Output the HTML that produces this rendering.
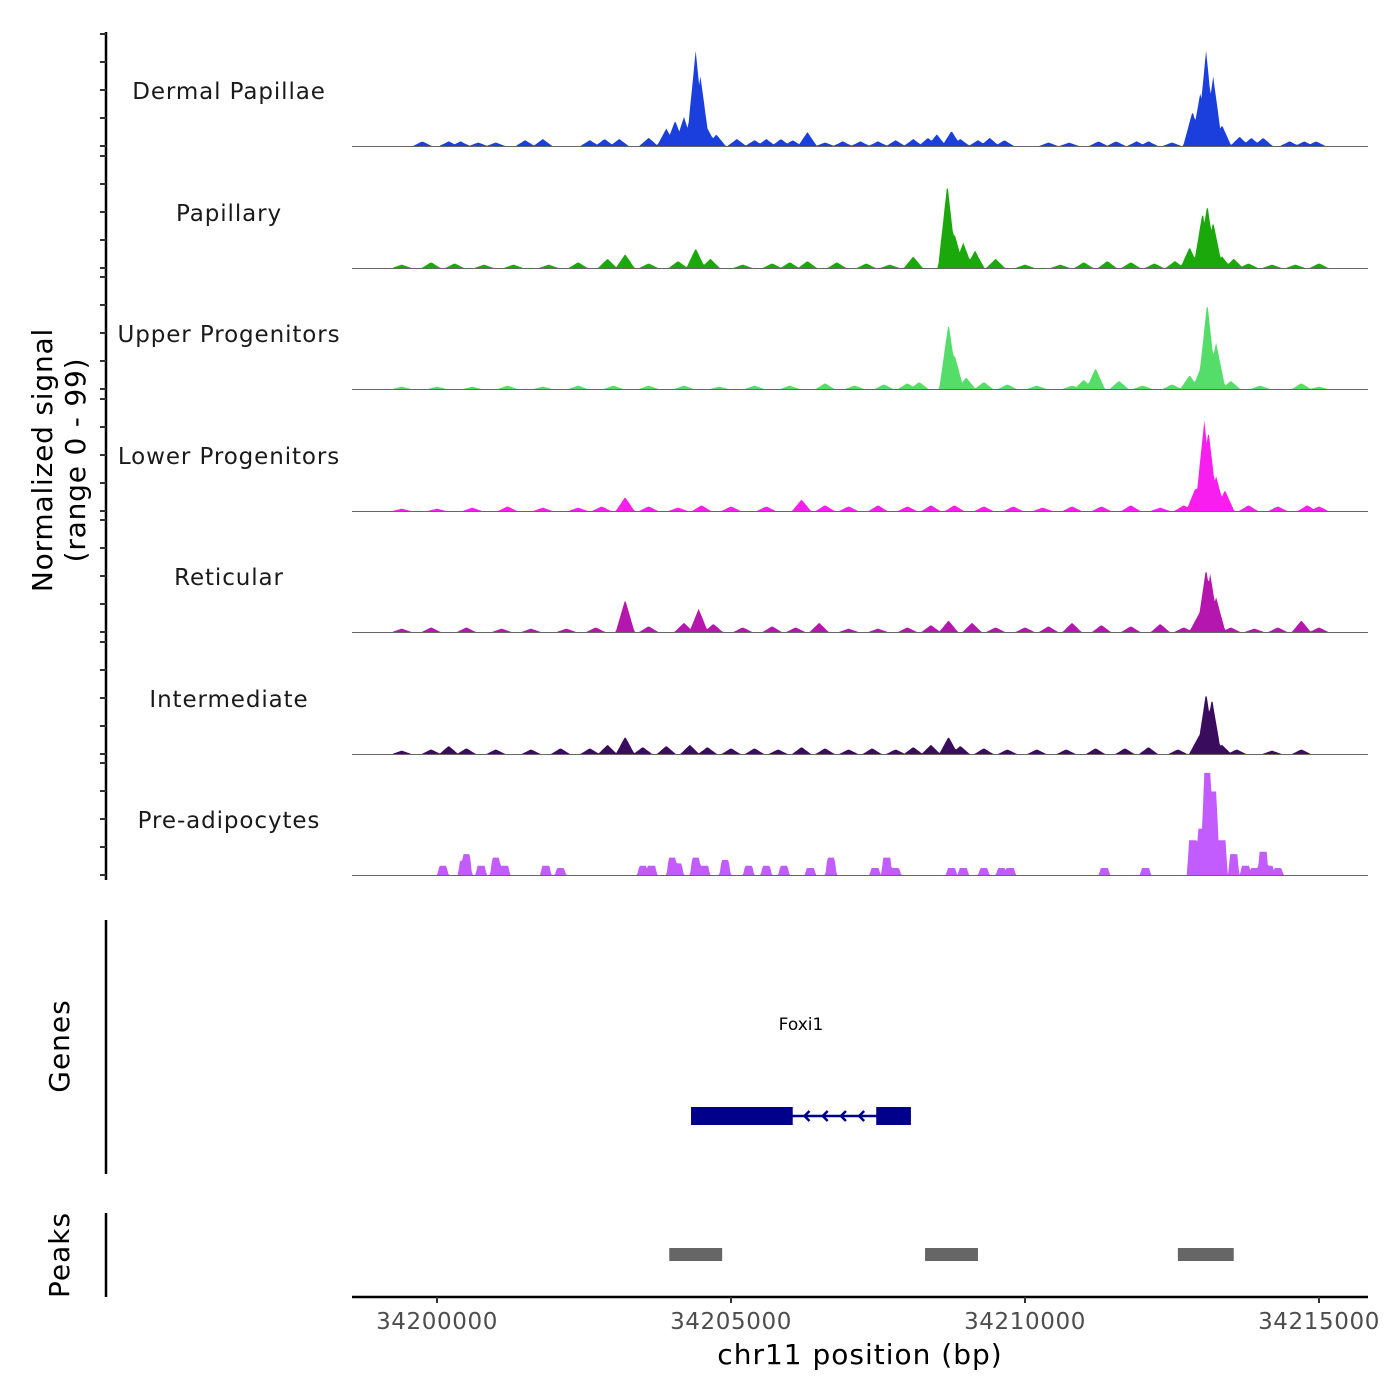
<!DOCTYPE html>
<html><head><meta charset="utf-8">
<style>
html,body{margin:0;padding:0;background:#fff;}
svg{display:block;font-family:"DejaVu Sans","Liberation Sans",sans-serif;}
</style></head>
<body>
<svg id="chart" width="1400" height="1400" viewBox="0 0 1400 1400">
  <g id="tracks"></g>
  <g id="yaxis"></g>
  <text x="52" y="460" font-size="28" letter-spacing="0.8" text-anchor="middle" transform="rotate(-90 52 460)" fill="#000">Normalized signal</text>
  <text x="85" y="460" font-size="28" letter-spacing="0.8" text-anchor="middle" transform="rotate(-90 85 460)" fill="#000">(range 0 - 99)</text>
  <line x1="106" y1="920" x2="106" y2="1174" stroke="#000" stroke-width="2.5"/>
  <text x="69" y="1046" font-size="28" letter-spacing="1" text-anchor="middle" transform="rotate(-90 69 1046)">Genes</text>
  <g id="genes"></g>
  <line x1="106" y1="1213" x2="106" y2="1297" stroke="#000" stroke-width="2.5"/>
  <text x="69" y="1255" font-size="28" letter-spacing="1" text-anchor="middle" transform="rotate(-90 69 1255)">Peaks</text>
  <g id="peaks"></g>
  <g id="xaxis"></g>
  <text x="860" y="1364" font-size="28" letter-spacing="1" text-anchor="middle" fill="#000">chr11 position (bp)</text>
</svg>
<script>
// ---- data ----
const trackNames = ["Dermal Papillae","Papillary","Upper Progenitors","Lower Progenitors","Reticular","Intermediate","Pre-adipocytes"];
const trackColors = ["#1a3fdc","#1aa80a","#55dd6a","#f81ef0","#b416ae","#3a0c5e","#c25cff"];
// peak positions (kb offset from 34200000) and heights (0-99)
const dpPos = [-0.25,0.2,0.4,0.7,1.0,1.5,1.8,2.6,2.85,3.1,3.6,3.9,4.05,4.2,4.3,4.4,4.48,4.6,4.75,5.1,5.4,5.6,5.85,6.05,6.3,6.6,6.9,7.2,7.5,7.8,8.1,8.35,8.5,8.75,8.9,9.2,9.4,9.65,10.4,10.75,11.25,11.55,11.9,12.1,12.5,12.85,12.98,13.08,13.2,13.35,13.65,13.85,14.05,14.5,14.75,14.95];
const dpVal = [4,4,4,3,3,5,6,5,6,6,7,15,22,25,20,82,60,15,10,6,5,6,6,5,12,3,4,4,4,5,6,7,10,13,6,5,7,5,3,3,4,4,4,4,3,30,45,82,60,18,8,7,7,4,4,4];
const paPos = [-0.6,-0.1,0.3,0.8,1.3,1.9,2.4,2.9,3.2,3.6,4.1,4.4,4.65,5.2,5.7,6.0,6.3,6.8,7.3,7.7,8.1,8.68,8.8,8.95,9.15,9.5,10.0,10.6,11.0,11.4,11.8,12.2,12.55,12.8,13.02,13.1,13.2,13.35,13.55,13.8,14.2,14.6,15.0];
const paVal = [3,5,4,3,3,3,5,8,12,4,6,17,8,3,4,5,6,5,4,3,10,73,30,22,15,8,3,3,5,6,5,4,6,18,48,55,40,10,8,4,3,3,4];
const upPos = [-0.6,0,0.6,1.2,1.8,2.4,3.0,3.6,4.2,4.8,5.4,6.0,6.6,7.1,7.6,8.0,8.2,8.7,8.8,9.0,9.3,9.7,10.2,10.8,11.0,11.2,11.6,12.0,12.5,12.8,13.0,13.1,13.25,13.5,14.0,14.7,15.0];
const upVal = [2,2,2,3,2,3,3,3,3,2,3,3,5,3,4,5,6,57,30,10,6,4,3,3,8,18,7,3,4,12,20,75,40,7,3,5,2];
const loPos = [-0.6,0,0.6,1.2,1.8,2.4,2.8,3.2,3.6,4.1,4.5,5.0,5.6,6.2,6.6,7.0,7.5,8.0,8.4,8.8,9.3,9.8,10.3,10.8,11.3,11.8,12.3,12.7,12.9,13.05,13.12,13.25,13.4,13.8,14.3,14.8,15.0];
const loVal = [2,2,3,4,3,3,4,12,4,3,5,4,4,10,5,4,5,4,5,5,4,4,3,4,4,5,3,5,20,78,70,30,18,5,4,5,4];
const rePos = [-0.6,-0.1,0.5,1.1,1.6,2.2,2.7,3.2,3.6,4.2,4.45,4.7,5.2,5.7,6.1,6.5,7.0,7.5,8.0,8.4,8.7,9.1,9.5,10.0,10.4,10.8,11.3,11.8,12.3,12.7,12.95,13.08,13.15,13.25,13.5,13.9,14.3,14.7,15.0];
const reVal = [3,4,4,3,3,3,4,28,5,8,20,7,4,5,4,8,3,3,4,6,10,8,4,4,5,8,6,5,7,4,15,55,50,30,4,3,4,10,4];
const inPos = [-0.6,-0.1,0.2,0.5,1.0,1.6,2.1,2.6,2.9,3.2,3.5,3.9,4.3,4.6,5.0,5.4,5.8,6.2,6.6,7.0,7.4,7.8,8.1,8.4,8.7,8.9,9.3,9.7,10.2,10.7,11.2,11.7,12.1,12.6,12.95,13.08,13.18,13.35,13.6,14.2,14.7];
const inVal = [3,4,7,5,4,4,5,5,8,15,6,7,8,6,5,5,4,6,5,4,5,4,6,8,15,7,5,4,4,4,5,5,6,4,15,53,48,8,4,3,4];
const prPos = [0.1,0.45,0.5,0.75,1.0,1.15,1.85,2.1,3.5,3.65,4.0,4.1,4.4,4.55,4.9,5.3,5.6,5.9,6.35,6.7,7.45,7.65,7.8,8.75,8.95,9.3,9.6,9.75,11.35,12.05,12.85,13.0,13.1,13.2,13.35,13.55,13.75,13.9,14.05,14.15,14.3];
const prVal = [8,12,18,8,15,8,8,6,8,8,15,10,15,8,13,8,8,8,6,15,6,15,6,6,6,6,6,6,6,6,30,40,88,72,30,18,8,6,20,8,6];
const trackPos = [dpPos,paPos,upPos,loPos,rePos,inPos,prPos];
const trackVal = [dpVal,paVal,upVal,loVal,reVal,inVal,prVal];
const xTicks = [34200000,34205000,34210000,34215000];
const xTickLabels = ["34200000","34205000","34210000","34215000"];
const geneName = "Foxi1";
const geneStart = 4.32, geneEnd = 8.06;
const exonStarts = [4.32,7.47];
const exonEnds = [6.05,8.06];
const peakStarts = [3.95,8.3,12.6];
const peakEnds = [4.85,9.2,13.55];

// ---- scales ----
const NS="http://www.w3.org/2000/svg";
const X0=437, PXKB=58.8;
function xs(kb){return X0+kb*PXKB;}
function ys(v,base){return base-v*1.16;}
const baselines=[146,268,389,511,632,754,875];

function mk(tag,attrs,parent){const e=document.createElementNS(NS,tag);for(const k in attrs)e.setAttribute(k,attrs[k]);parent.appendChild(e);return e;}

const tracks=document.getElementById('tracks');
const yaxis=document.getElementById('yaxis');
const ax=mk('line',{x1:106,y1:32,x2:106,y2:880,stroke:'#000','stroke-width':2.5},yaxis);



for(let t=0;t<7;t++){
  const base=baselines[t];
  const g=mk('g',{},tracks);
  
  
  const pos=trackPos[t], val=trackVal[t];
  const hw = t===6 ? 0.06 : 0.1;
  const step=0.02;
  let pts=[];
  const lo=Math.min(...pos)-0.15, hi=Math.max(...pos)+0.15;
  for(let k=lo;k<=hi;k+=step){
    let h=0;
    for(let i=0;i<pos.length;i++){
      const d=Math.abs(k-pos[i]);
      let v;
      if(t===6){v = d<hw? val[i] : (d<hw*1.6? val[i]*(1-(d-hw)/(hw*0.6)):0);}
      else {v = d<hw*1.6 ? val[i]*(1-d/(hw*1.6)) : 0;}
      if(v>h)h=v;
    }
    pts.push([xs(k),ys(h,base)]);
  }
  let d='M'+pts[0][0].toFixed(1)+','+base;
  for(const p of pts)d+=' L'+p[0].toFixed(1)+','+p[1].toFixed(1);
  d+=' L'+pts[pts.length-1][0].toFixed(1)+','+base+' Z';
  const area=mk('path',{d:d,fill:trackColors[t],stroke:'none'},g);
  
  
  const bl=mk('line',{x1:352,y1:base+0.5,x2:1368,y2:base+0.5,stroke:'#666','stroke-width':1},g);
  
  
  const lb=mk('text',{x:229,y:base-47,'font-size':23,'letter-spacing':'0.9','text-anchor':'middle',fill:'#1a1a1a'},g);
  lb.textContent=trackNames[t];
  
  
  for(let k=0;k<5;k++){
    const tk=mk('line',{x1:100,y1:base-28*k,x2:106,y2:base-28*k,stroke:'#333','stroke-width':2},yaxis);
    
    
  }
}

// genes
const gg=document.getElementById('genes');
const gl=mk('text',{x:(xs(geneStart)+xs(geneEnd))/2,y:1030,'font-size':17,'text-anchor':'middle',fill:'#000'},gg);
gl.textContent=geneName;


const gline=mk('line',{x1:xs(geneStart),y1:1116,x2:xs(geneEnd),y2:1116,stroke:'#00008b','stroke-width':2.5},gg);


for(let i=0;i<exonStarts.length;i++){
  const r=mk('rect',{x:xs(exonStarts[i]),y:1107,width:xs(exonEnds[i])-xs(exonStarts[i]),height:18,fill:'#00008b'},gg);
  
  
}
for(let k=exonEnds[0]+0.2;k<exonStarts[1]-0.1;k+=0.31){
  const x=xs(k);
  const a=mk('path',{d:`M${x+5},${1111} L${x},${1116} L${x+5},${1121}`,fill:'none',stroke:'#00008b','stroke-width':2.5},gg);
  
  
}

// peaks
const pg=document.getElementById('peaks');
for(let i=0;i<peakStarts.length;i++){
  const r=mk('rect',{x:xs(peakStarts[i]),y:1248,width:xs(peakEnds[i])-xs(peakStarts[i]),height:13,fill:'#666'},pg);
  
  
}

// x axis
const xg=document.getElementById('xaxis');
const xl=mk('line',{x1:352,y1:1297,x2:1368,y2:1297,stroke:'#000','stroke-width':2.5},xg);


for(let i=0;i<xTicks.length;i++){
  const x=xs((xTicks[i]-34200000)/1000);
  const tk=mk('line',{x1:x,y1:1297,x2:x,y2:1303,stroke:'#333','stroke-width':2},xg);
  
  
  const tl=mk('text',{x:x,y:1329,'font-size':23,'letter-spacing':'0.6','text-anchor':'middle',fill:'#4d4d4d'},xg);
  tl.textContent=xTickLabels[i];
  
  
}
</script>
</body></html>
